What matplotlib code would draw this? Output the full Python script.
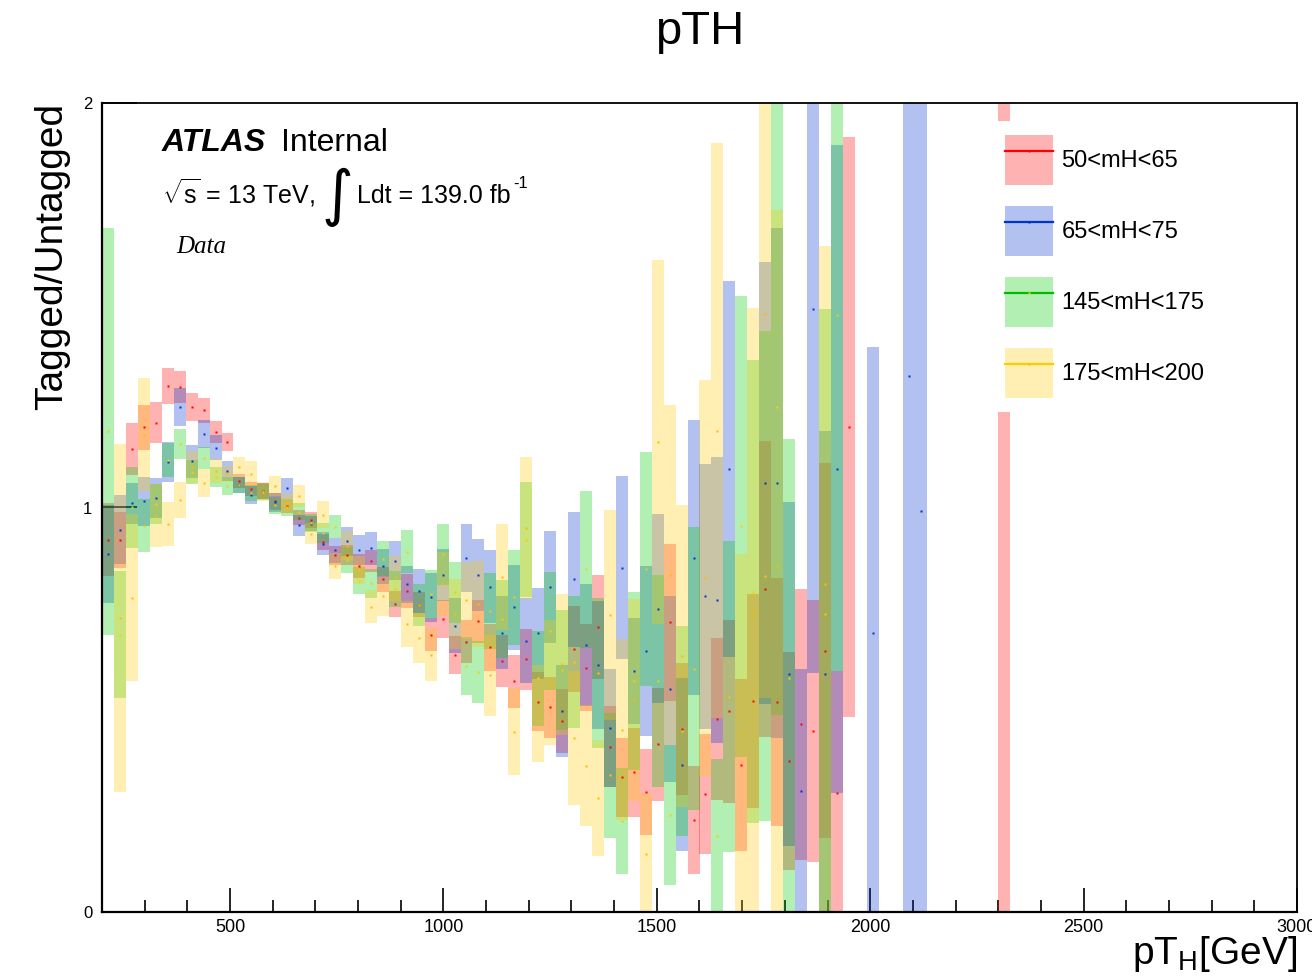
"""
pTH tagged/untagged ratio in four mH windows (ATLAS internal style)
"""

import numpy as np
import matplotlib
matplotlib.use('Agg')
import matplotlib.pyplot as plt
from matplotlib.patches import Patch
from matplotlib.lines import Line2D
from matplotlib.ticker import MultipleLocator, FixedLocator

plt.rcParams['font.family'] = ['Liberation Sans', 'DejaVu Sans']
plt.rcParams['mathtext.fontset'] = 'custom'
plt.rcParams['mathtext.rm'] = 'Liberation Sans'
plt.rcParams['mathtext.it'] = 'Liberation Sans:italic'

# 28 GeV bins starting at 200 GeV, bin index 0..75
bin_start = 200
bin_width = 28
N = None

labels = ["50<mH<65", "65<mH<75", "145<mH<175", "175<mH<200"]

red_val = [0.92, 0.92, 1.145, 1.198, 1.21, 1.30, 1.298, 1.248, 1.24, 1.187,
           1.161, 1.065, 1.046, 1.04, 1.015, 1.003, 0.975, 0.969, 0.915, 0.882,
           0.883, 0.856, 0.868, 0.823, 0.761, 0.793, 0.76, 0.686, 0.725, 0.636,
           0.668, 0.719, 0.655, 0.62, 0.57, 0.625, 0.52, 0.506, 0.472, 0.651,
           0.604, 0.705, 0.409, 0.333, 0.345, 0.297, 0.415, 0.716, 0.453, 0.227,
           0.291, 0.477, 0.496, 0.363, 0.521, 0.799, 0.519, 0.374, 0.464, 0.447,
           0.646, 0.295, 1.199, N, N, N, N, N, N, N,
           N, N, N, N, N, 1.6]
red_err = [0.09, 0.07, 0.065, 0.055, 0.05, 0.045, 0.04, 0.035, 0.031, 0.027,
           0.022, 0.017, 0.017, 0.02, 0.02, 0.017, 0.018, 0.02, 0.02, 0.024,
           0.025, 0.03, 0.027, 0.031, 0.032, 0.042, 0.03, 0.041, 0.047, 0.047,
           0.053, 0.053, 0.058, 0.064, 0.066, 0.075, 0.073, 0.076, 0.08, 0.106,
           0.107, 0.129, 0.1, 0.098, 0.11, 0.107, 0.14, 0.195, 0.163, 0.133,
           0.148, 0.2, 0.226, 0.213, 0.265, 0.366, 0.306, 0.27, 0.335, 0.324,
           0.464, 0.3, 0.716, N, N, N, N, N, N, N,
           N, N, N, N, N, 1.7]

blue_val = [0.885, 0.945, 1.01, 1.015, 1.024, 1.113, 1.248, 1.114, 1.182, 1.148,
            1.09, 1.055, 1.03, 1.04, 1.013, 1.047, 0.956, 0.96, 0.911, 0.894,
            0.916, 0.896, 0.899, 0.855, 0.868, 0.81, 0.793, 0.778, 0.833, 0.708,
            0.875, 0.833, 0.804, 0.69, 0.753, 0.671, 0.689, 0.804, 0.497, 0.823,
            0.66, 0.611, 0.454, 0.851, 0.596, 0.646, 0.75, 0.551, 0.364, 0.876,
            0.78, 0.771, 1.095, N, N, 1.06, 1.06, 0.588, 0.3, 1.49,
            0.588, 1.095, N, N, 0.69, N, N, 1.325, 0.991, N,
            N, N, N, N, N, N]
blue_err = [0.12, 0.085, 0.05, 0.06, 0.05, 0.05, 0.047, 0.04, 0.034, 0.031,
            0.025, 0.02, 0.022, 0.02, 0.023, 0.025, 0.026, 0.018, 0.028, 0.03,
            0.035, 0.037, 0.04, 0.043, 0.048, 0.045, 0.054, 0.06, 0.065, 0.068,
            0.083, 0.088, 0.09, 0.09, 0.105, 0.106, 0.112, 0.138, 0.113, 0.167,
            0.15, 0.158, 0.146, 0.226, 0.13, 0.21, 0.233, 0.23, 0.214, 0.34,
            0.328, 0.354, 0.465, N, N, 0.547, 0.63, 0.425, 0.3, 0.9,
            0.6, 0.8, N, N, 0.706, N, N, 1.4, 1.1, N,
            N, N, N, N, N, N]

green_val = [1.188, 0.685, 1.0, 0.955, 1.008, 1.117, 1.157, 1.087, 1.123, 1.075,
             1.054, 1.056, 1.036, 1.038, 1.005, 1.0, 0.99, 0.962, 0.937, 0.953,
             0.87, 0.819, 0.813, 0.873, 0.799, 0.891, 0.759, 0.786, 0.884, 0.79,
             0.609, 0.593, 0.744, 0.724, 0.778, 0.92, 0.578, 0.695, 0.598, 0.617,
             0.847, 0.591, 0.338, 0.224, 0.57, 0.848, 0.571, 0.24, 0.448, 0.601,
             N, 0.188, 0.532, 0.954, 0.792, 0.831, 1.248, 0.579, N, N,
             0.737, 1.476, N, N, N, N, N, N, N, N,
             N, N, N, N, N, N]
green_err = [0.504, 0.157, 0.10, 0.065, 0.05, 0.042, 0.038, 0.03, 0.027, 0.025,
             0.022, 0.019, 0.019, 0.02, 0.02, 0.02, 0.022, 0.022, 0.025, 0.029,
             0.032, 0.033, 0.036, 0.043, 0.045, 0.053, 0.053, 0.06, 0.075, 0.075,
             0.072, 0.077, 0.094, 0.096, 0.117, 0.142, 0.117, 0.146, 0.149, 0.163,
             0.194, 0.185, 0.154, 0.131, 0.22, 0.29, 0.262, 0.173, 0.26, 0.35,
             N, 0.19, 0.384, 0.57, 0.573, 0.605, 0.76, 0.59, N, N,
             0.754, 0.88, N, N, N, N, N, N, N, N,
             N, N, N, N, N, N]

yellow_val = [N, 0.727, 0.777, 1.18, 0.98, 0.96, 1.018, 1.10, 1.061, 1.09,
              1.082, 1.10, 1.084, 1.04, 1.054, 1.01, 1.029, 0.935, 0.982, 0.855,
              0.906, 0.845, 0.755, 0.78, 0.825, 0.711, 0.677, 0.636, 0.811, 0.737,
              0.771, 0.762, 0.585, 0.828, 0.446, 0.949, 0.49, 0.568, 0.612, 0.431,
              0.362, 0.282, 0.734, 0.451, 0.524, 0.143, 1.162, 0.833, 0.633, N,
              0.825, 1.19, N, 0.438, 0.738, 1.478, 0.855, N, N, N,
              0.812, N, N, N, N, N, N, N, N, N,
              N, N, N, N, N, N]
yellow_err = [N, 0.43, 0.206, 0.14, 0.078, 0.054, 0.045, 0.04, 0.034, 0.03,
              0.02, 0.025, 0.03, 0.023, 0.025, 0.024, 0.027, 0.026, 0.033, 0.032,
              0.035, 0.035, 0.041, 0.047, 0.056, 0.057, 0.061, 0.066, 0.08, 0.087,
              0.095, 0.106, 0.1, 0.13, 0.108, 0.176, 0.12, 0.155, 0.174, 0.166,
              0.15, 0.144, 0.26, 0.223, 0.25, 0.15, 0.45, 0.42, 0.373, N,
              0.49, 0.71, N, 0.446, 0.754, 0.95, 0.88, N, N, N,
              0.834, N, N, N, N, N, N, N, N, N,
              N, N, N, N, N, N]

series = [
    (labels[0], red_val, red_err, '#ff0000', '#ff0000', '#ff0000'),
    (labels[1], blue_val, blue_err, '#0033cc', '#0033cc', '#0033cc'),
    (labels[2], green_val, green_err, '#00cc00', '#00bb00', '#ffcc00'),
    (labels[3], yellow_val, yellow_err, '#ffcc00', '#ffcc00', '#ffbb00'),
]


def to_arr(lst):
    return np.array([np.nan if v is None else v for v in lst], dtype=float)


W, H = 1312, 980
fig = plt.figure(figsize=(W / 100, H / 100), dpi=100)
ax = fig.add_axes([102 / W, 1 - 912 / H, 1195 / W, 809 / H])

handles = []
for name, val, err, fill, line, mark in series:
    v = to_arr(val)
    e = to_arr(err)
    lo = bin_start + bin_width * np.arange(len(v))
    ok = ~np.isnan(v)
    ax.bar(lo[ok], 2 * e[ok], bottom=v[ok] - e[ok], width=bin_width, align='edge',
           color=fill, alpha=0.3, linewidth=0, zorder=2)
    ax.plot(lo[ok] + bin_width / 2, v[ok], 's', ms=1.5, color=mark, mec='none', zorder=3)
    handles.append((Patch(facecolor=fill, alpha=0.3, edgecolor='none'),
                    Line2D([], [], color=line, lw=1.6, marker='s', ms=1.5,
                           mfc=mark, mec='none')))

ax.set_xlim(200, 3000)
ax.set_ylim(0, 2)

ax.xaxis.set_major_locator(FixedLocator([500, 1000, 1500, 2000, 2500, 3000]))
ax.xaxis.set_minor_locator(MultipleLocator(100))
ax.set_xticklabels(['500', '1000', '1500', '2000', '2500', '3000'])
ax.yaxis.set_major_locator(FixedLocator([0, 1, 2]))
ax.set_yticklabels(['0', '1', '2'])
ax.tick_params(axis='x', which='major', direction='in', length=17, width=1.2,
               labelsize=13, pad=5, top=False)
ax.tick_params(axis='x', which='minor', direction='in', length=8.5, width=1.2, top=False)
ax.tick_params(axis='y', which='major', direction='in', length=25, width=1.2,
               labelsize=12, pad=7, right=False)
for side in ['left', 'bottom']:
    ax.spines[side].set_linewidth(1.6)
for side in ['top', 'right']:
    ax.spines[side].set_linewidth(1.3)

ax.set_xlabel(r'pT$_{\mathrm{H}}$[GeV]', loc='right', fontsize=28)
ax.xaxis.set_label_coords(1.0, -0.027)
ax.set_ylabel('Tagged/Untagged', loc='top', fontsize=28)
ax.yaxis.set_label_coords(-0.027, 1.0)

leg = ax.legend(handles, labels, loc='upper left', bbox_to_anchor=(0.7435, 0.978),
                fontsize=17, handlelength=2.03, handleheight=2.88, labelspacing=0.89,
                handletextpad=0.38, borderpad=0.6, borderaxespad=0.0, frameon=True,
                fancybox=False, framealpha=1.0, facecolor='white', edgecolor='none')
leg.set_zorder(5)


def fx(px):
    return px / W


def fy(py):
    return 1 - py / H


fig.text(fx(700), fy(32), 'pTH', ha='center', va='center', fontsize=34)
fig.text(fx(162), fy(151), 'ATLAS', fontsize=23, fontweight='bold', fontstyle='italic',
         va='baseline')
fig.text(fx(281), fy(151), 'Internal', fontsize=23, va='baseline')
fig.text(fx(162), fy(203), r'$\sqrt{\mathrm{s}}$ = 13 TeV,', fontsize=18, va='baseline')
fig.text(fx(322), fy(197), '\u222b', fontsize=44, va='center', family='DejaVu Sans')
fig.text(fx(357), fy(203), 'Ldt = 139.0 fb', fontsize=18, va='baseline')
fig.text(fx(513), fy(188), '-1', fontsize=12, va='baseline')
fig.text(fx(176), fy(253), 'Data', fontsize=18, fontstyle='italic', va='baseline',
         family=['Liberation Serif', 'DejaVu Serif'])

fig.savefig('out.png', dpi=100)
print("Saved out.png")
